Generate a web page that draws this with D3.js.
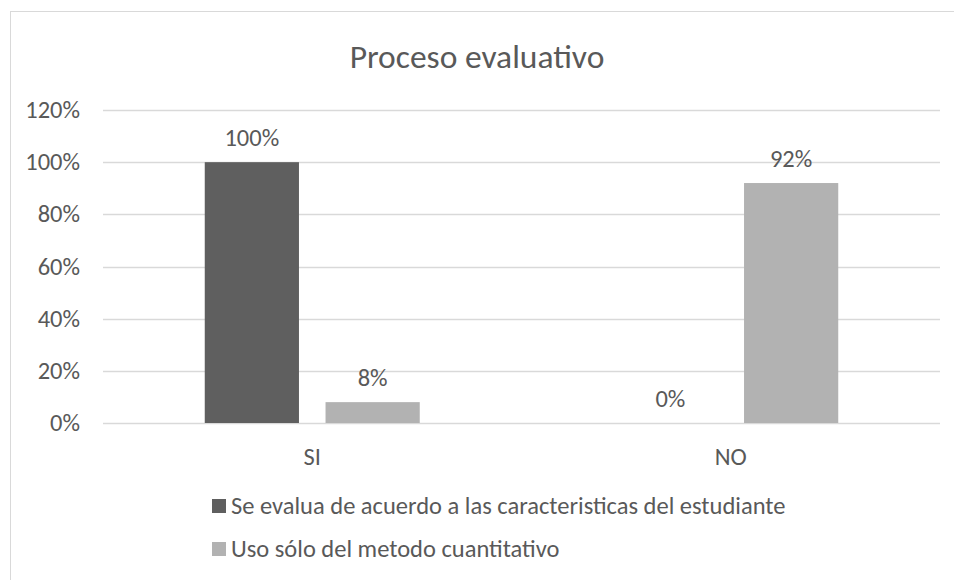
<!DOCTYPE html>
<html>
<head>
<meta charset="utf-8">
<script src="https://cdn.jsdelivr.net/npm/d3@7"></script>
<style>
  body { margin: 0; background: #fff; }
  text { font-family: Calibri, Carlito, "Open Sans", sans-serif; fill: #595959; }
</style>
</head>
<body>
<div id="content"></div>
<script>
// data
var categories = ["SI", "NO"];
var seriesNames = ["Se evalua de acuerdo a las caracteristicas del estudiante", "Uso sólo del metodo cuantitativo"];
var evaluaValues = [100, 0];
var cuantitativoValues = [8, 92];
var yTicks = [0, 20, 40, 60, 80, 100, 120];
var colors = ["#5f5f5f", "#b2b2b2"];

var series = [evaluaValues, cuantitativoValues];

var svg = d3.select("#content").append("svg")
    .attr("width", 954)
    .attr("height", 580);

// chart border (cropped at right / bottom)
svg.append("rect")
    .attr("x", 10.5)
    .attr("y", 11.5)
    .attr("width", 960)
    .attr("height", 600)
    .attr("fill", "#fff")
    .attr("stroke", "#d9d9d9");

var plotLeft = 103, plotRight = 940, plotTop = 110, plotBottom = 423;
var groupW = 215;
var fs = "24.5px";

var y = d3.scaleLinear().domain([0, 120]).range([plotBottom, plotTop]);
var x0 = d3.scaleBand().domain(categories).range([plotLeft, plotRight]);
var x1 = d3.scaleBand().domain([0, 1]).range([0, groupW]).paddingInner(0.22);

function barX(i, s){ return x0(categories[i]) + x0.bandwidth()/2 - groupW/2 + x1(s); }

// gridlines
svg.append("g").selectAll("line")
    .data(yTicks)
  .enter().append("line")
    .attr("x1", plotLeft)
    .attr("x2", plotRight)
    .attr("y1", function(d){ return Math.round(y(d)) + 0.5; })
    .attr("y2", function(d){ return Math.round(y(d)) + 0.5; })
    .attr("stroke", "#d9d9d9")
    .attr("stroke-width", 1.3);

// y tick labels
svg.append("g").selectAll("text")
    .data(yTicks)
  .enter().append("text")
    .attr("x", 80)
    .attr("y", function(d){ return y(d) + 8; })
    .attr("text-anchor", "end")
    .style("font-size", fs)
    .text(function(d){ return d + "%"; });

// bars
series.forEach(function(vals, s){
  var g = svg.append("g");
  g.selectAll("rect")
      .data(vals)
    .enter().append("rect")
      .attr("x", function(d, i){ return barX(i, s); })
      .attr("y", function(d){ return y(d); })
      .attr("width", x1.bandwidth())
      .attr("height", function(d){ return plotBottom - y(d); })
      .attr("fill", colors[s]);

  g.selectAll("text")
      .data(vals)
    .enter().append("text")
      .attr("x", function(d, i){ return barX(i, s) + x1.bandwidth()/2; })
      .attr("y", function(d){ return y(d) - 16; })
      .attr("text-anchor", "middle")
      .style("font-size", fs)
      .text(function(d){ return d + "%"; });
});

// category labels
svg.append("g").selectAll("text")
    .data(categories)
  .enter().append("text")
    .attr("x", function(d){ return x0(d) + x0.bandwidth()/2; })
    .attr("y", 465)
    .attr("text-anchor", "middle")
    .style("font-size", fs)
    .text(function(d){ return d; });

// title
svg.append("text")
    .attr("x", 477)
    .attr("y", 68)
    .attr("text-anchor", "middle")
    .style("font-size", "33.5px")
    .text("Proceso evaluativo");

// legend
var legend = svg.append("g").selectAll("g")
    .data(seriesNames)
  .enter().append("g")
    .attr("transform", function(d, i){ return "translate(212," + (499 + i*43) + ")"; });
legend.append("rect")
    .attr("width", 14)
    .attr("height", 14)
    .attr("fill", function(d, i){ return colors[i]; });
legend.append("text")
    .attr("x", 19)
    .attr("y", 15)
    .style("font-size", fs)
    .text(function(d){ return d; });
</script>
</body>
</html>
